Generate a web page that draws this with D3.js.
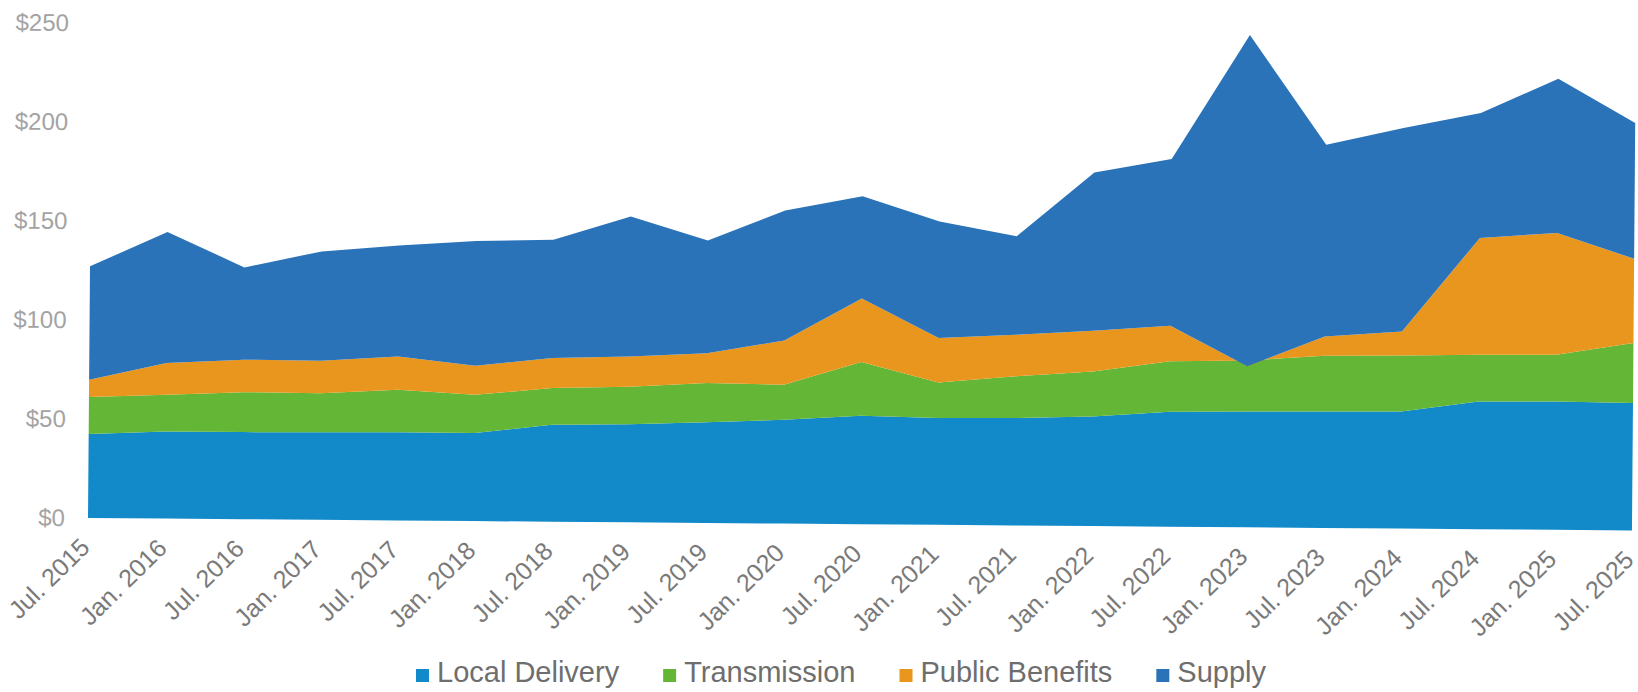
<!DOCTYPE html>
<html>
<head>
<meta charset="utf-8">
<script src="https://cdn.jsdelivr.net/npm/d3@7"></script>
<style>
  body { margin: 0; background: #fff; }
  svg { display: block; font-family: "Liberation Sans", Arial, sans-serif; }
</style>
</head>
<body>
<svg id="chart"></svg>
<script>
// chart values
const categories = ["Jul. 2015", "Jan. 2016", "Jul. 2016", "Jan. 2017", "Jul. 2017", "Jan. 2018", "Jul. 2018",
  "Jan. 2019", "Jul. 2019", "Jan. 2020", "Jul. 2020", "Jan. 2021", "Jul. 2021", "Jan. 2022", "Jul. 2022",
  "Jan. 2023", "Jul. 2023", "Jan. 2024", "Jul. 2024", "Jan. 2025", "Jul. 2025"];
const localDelivery = [42.4, 44.0, 44.0, 44.2, 44.5, 44.5, 49.0, 49.6, 50.9, 52.4, 54.8, 53.9, 54.2, 55.3, 58.0, 58.5, 58.8, 59.1, 64.5, 64.8, 64.4];
const transmission = [18.7, 18.6, 20.2, 19.8, 21.5, 19.3, 18.5, 18.9, 19.8, 17.7, 27.1, 18.0, 21.1, 22.7, 25.5, 25.8, 28.2, 28.3, 23.6, 23.6, 30.3];
const publicBenefits = [8.7, 16.0, 16.4, 16.4, 16.8, 14.7, 15.2, 15.3, 15.0, 22.4, 32.1, 22.4, 21.0, 20.7, 18.0, -3.0, 9.7, 12.1, 59.0, 61.5, 42.5];
const supply = [57.3, 66.2, 46.6, 55.2, 56.1, 63.0, 59.7, 70.7, 57.0, 65.6, 51.6, 58.9, 49.7, 79.9, 84.2, 167.3, 96.8, 102.8, 63.1, 77.9, 68.5];
const seriesNames = ["Local Delivery", "Transmission", "Public Benefits", "Supply"];
const yTicks = [0, 50, 100, 150, 200, 250];

const colors = {
  "Local Delivery": "#1289c8",
  "Transmission": "#64b636",
  "Public Benefits": "#e9961f",
  "Supply": "#2b73b9"
};

const width = 1638, height = 692;
const plotLeft = 88, plotRight = 1632, plotBase = 518, plotTop = 23;

const svg = d3.select("#chart").attr("width", width).attr("height", height);

// the scanned page is tilted a little, so the plot is turned with it
const g = svg.append("g").attr("transform", `rotate(0.46, ${plotLeft}, ${plotBase})`);

// build rows for the stack
const rows = categories.map((c, i) => ({
  cat: c,
  "Local Delivery": localDelivery[i],
  "Transmission": transmission[i],
  "Public Benefits": publicBenefits[i],
  "Supply": supply[i]
}));

const stacked = d3.stack().keys(seriesNames)(rows);

const x = d3.scalePoint().domain(categories).range([plotLeft, plotRight]);
const y = d3.scaleLinear().domain([0, 250]).range([plotBase, plotTop]);

const area = d3.area()
  .x(d => x(d.data.cat))
  .y0(d => y(d[0]))
  .y1(d => y(d[1]));

g.selectAll("path.layer")
  .data(stacked)
  .enter()
  .append("path")
  .attr("class", "layer")
  .attr("d", area)
  .style("fill", d => colors[d.key]);

// y axis
const yAxis = g.append("g")
  .attr("transform", `translate(${plotLeft},0)`)
  .call(d3.axisLeft(y).tickValues(yTicks).tickFormat(d => "$" + d).tickSize(0).tickPadding(23));
yAxis.select(".domain").remove();
yAxis.selectAll("text")
  .style("font-size", "24px")
  .style("fill", "#a3a3a3")
  .style("font-family", "Liberation Sans, Arial, sans-serif");

// x axis
const xAxis = g.append("g")
  .attr("transform", `translate(0,${plotBase})`)
  .call(d3.axisBottom(x).tickSize(0));
xAxis.select(".domain").remove();
xAxis.selectAll("text")
  .attr("x", 0)
  .attr("y", 0)
  .attr("dy", null)
  .attr("transform", "translate(3,31) rotate(-45)")
  .style("text-anchor", "end")
  .style("font-size", "25px")
  .style("fill", "#7a7a7a")
  .style("font-family", "Liberation Sans, Arial, sans-serif");

// legend (level, under the plot)
const legend = svg.append("g").attr("class", "legend");
let lx = 416;
seriesNames.forEach(name => {
  const item = legend.append("g").attr("transform", `translate(${lx},669)`);
  item.append("rect")
    .attr("x", 0)
    .attr("y", 0)
    .attr("width", 13)
    .attr("height", 13)
    .style("fill", colors[name]);
  const t = item.append("text")
    .attr("x", 21)
    .attr("y", 13)
    .text(name)
    .style("font-size", "29px")
    .style("fill", "#6e6e6e");
  lx += 21 + t.node().getComputedTextLength() + 44;
});
</script>
</body>
</html>
